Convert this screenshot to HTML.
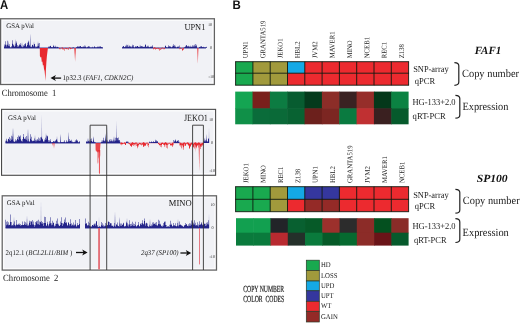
<!DOCTYPE html>
<html><head><meta charset="utf-8"><title>Figure</title>
<style>
html,body{margin:0;padding:0;background:#fff;}
body{width:520px;height:323px;position:relative;overflow:hidden;font-family:"Liberation Serif",serif;}
svg text{white-space:pre;text-rendering:geometricPrecision;}
</style></head><body>
<svg width="520" height="323" viewBox="0 0 520 323" style="position:absolute;left:0;top:0;filter:blur(0.45px)">
<rect width="520" height="323" fill="#ffffff"/>
<text x="0.1" y="8.8" font-family="Liberation Sans" font-size="12.6" font-weight="bold" font-style="normal" text-anchor="start" fill="#111" textLength="8.2" lengthAdjust="spacingAndGlyphs" >A</text>
<text x="232.4" y="8.6" font-family="Liberation Sans" font-size="12.4" font-weight="bold" font-style="normal" text-anchor="start" fill="#111" textLength="8.3" lengthAdjust="spacingAndGlyphs" >B</text>
<rect x="0.6" y="18.75" width="213.8" height="65.75" fill="#f1f2f6"/>
<rect x="2.1" y="20.25" width="210.8" height="62.75" fill="none" stroke="#ffffff" stroke-width="1.4" opacity="0.7"/>
<rect x="0.6" y="18.75" width="213.8" height="65.75" fill="none" stroke="#626262" stroke-width="1.25"/>
<rect x="1.55" y="109.35" width="214.04999999999998" height="65.95000000000002" fill="#f1f2f6"/>
<rect x="3.05" y="110.85" width="211.04999999999998" height="62.95000000000002" fill="none" stroke="#ffffff" stroke-width="1.4" opacity="0.7"/>
<rect x="1.55" y="109.35" width="214.04999999999998" height="65.95000000000002" fill="none" stroke="#4a4a4a" stroke-width="1.1"/>
<rect x="2.2" y="195.8" width="214.3" height="74.30000000000001" fill="#f1f2f6"/>
<rect x="3.7" y="197.3" width="211.3" height="71.30000000000001" fill="none" stroke="#ffffff" stroke-width="1.4" opacity="0.7"/>
<rect x="2.2" y="195.8" width="214.3" height="74.30000000000001" fill="none" stroke="#626262" stroke-width="1.25"/>
<line x1="4" y1="48.0" x2="103" y2="48.0" stroke="#24248a" stroke-width="0.9"/>
<line x1="122" y1="48.0" x2="206" y2="48.0" stroke="#24248a" stroke-width="0.9"/>
<path d="M4.00 48.0v-1.57h0.5v1.57zM4.50 48.0v-3.48h0.5v3.48zM5.00 48.0v-6.77h0.5v6.77zM5.50 48.0v-3.24h0.5v3.24zM6.00 48.0v-1.46h0.5v1.46zM6.50 48.0v-3.21h0.5v3.21zM7.00 48.0v-7.13h0.5v7.13zM7.50 48.0v-3.21h0.5v3.21zM8.00 48.0v-2.02h0.5v2.02zM8.50 48.0v-1.69h0.5v1.69zM9.00 48.0v-3.76h0.5v3.76zM9.50 48.0v-1.69h0.5v1.69zM10.00 48.0v-0.50h0.5v0.50zM10.50 48.0v-0.50h0.5v0.50zM11.00 48.0v-0.57h0.5v0.57zM11.50 48.0v-1.92h0.5v1.92zM12.00 48.0v-4.26h0.5v4.26zM12.50 48.0v-7.87h0.5v7.87zM13.00 48.0v-3.54h0.5v3.54zM13.50 48.0v-2.47h0.5v2.47zM14.00 48.0v-1.11h0.5v1.11zM14.50 48.0v-1.68h0.5v1.68zM15.00 48.0v-3.74h0.5v3.74zM15.50 48.0v-2.10h0.5v2.10zM16.00 48.0v-4.68h0.5v4.68zM16.50 48.0v-6.44h0.5v6.44zM17.00 48.0v-2.97h0.5v2.97zM17.50 48.0v-1.34h0.5v1.34zM18.00 48.0v-2.22h0.5v2.22zM18.50 48.0v-1.23h0.5v1.23zM19.00 48.0v-2.73h0.5v2.73zM19.50 48.0v-3.79h0.5v3.79zM20.00 48.0v-4.79h0.5v4.79zM20.50 48.0v-2.89h0.5v2.89zM21.00 48.0v-1.96h0.5v1.96zM21.50 48.0v-0.88h0.5v0.88zM22.00 48.0v-0.50h0.5v0.50zM22.50 48.0v-0.73h0.5v0.73zM23.00 48.0v-1.62h0.5v1.62zM23.50 48.0v-2.68h0.5v2.68zM24.00 48.0v-3.93h0.5v3.93zM24.50 48.0v-2.35h0.5v2.35zM25.00 48.0v-4.95h0.5v4.95zM25.50 48.0v-3.70h0.5v3.70zM26.00 48.0v-1.73h0.5v1.73zM26.50 48.0v-1.34h0.5v1.34zM27.00 48.0v-2.97h0.5v2.97zM27.50 48.0v-5.31h0.5v5.31zM28.00 48.0v-5.75h0.5v5.75zM28.50 48.0v-7.35h0.5v7.35zM29.00 48.0v-3.31h0.5v3.31zM29.50 48.0v-2.26h0.5v2.26zM30.00 48.0v-1.02h0.5v1.02zM30.50 48.0v-1.52h0.5v1.52zM31.00 48.0v-0.68h0.5v0.68zM31.50 48.0v-1.51h0.5v1.51zM32.00 48.0v-3.35h0.5v3.35zM32.50 48.0v-3.03h0.5v3.03zM33.00 48.0v-1.36h0.5v1.36zM33.50 48.0v-1.68h0.5v1.68zM34.00 48.0v-3.74h0.5v3.74zM34.50 48.0v-4.06h0.5v4.06zM35.00 48.0v-1.83h0.5v1.83zM35.50 48.0v-0.50h0.5v0.50zM36.00 48.0v-0.69h0.5v0.69zM36.50 48.0v-1.51h0.5v1.51zM37.00 48.0v-1.76h0.5v1.76zM37.50 48.0v-1.18h0.5v1.18zM38.00 48.0v-2.01h0.5v2.01zM38.50 48.0v-4.46h0.5v4.46zM39.00 48.0v-4.98h0.5v4.98zM48.00 48.0v-0.62h0.5v0.62zM48.50 48.0v-1.38h0.5v1.38zM49.00 48.0v-0.77h0.5v0.77zM49.50 48.0v-1.71h0.5v1.71zM50.00 48.0v-2.10h0.5v2.10zM50.50 48.0v-2.18h0.5v2.18zM51.00 48.0v-0.98h0.5v0.98zM51.50 48.0v-0.78h0.5v0.78zM52.00 48.0v-0.50h0.5v0.50zM52.50 48.0v-1.02h0.5v1.02zM53.00 48.0v-1.67h0.5v1.67zM53.50 48.0v-1.79h0.5v1.79zM54.00 48.0v-0.96h0.5v0.96zM54.50 48.0v-1.07h0.5v1.07zM55.00 48.0v-0.99h0.5v0.99zM55.50 48.0v-2.21h0.5v2.21zM56.00 48.0v-1.34h0.5v1.34zM56.50 48.0v-0.60h0.5v0.60zM57.00 48.0v-1.09h0.5v1.09zM57.50 48.0v-1.20h0.5v1.20zM58.00 48.0v-0.54h0.5v0.54zM58.50 48.0v-0.50h0.5v0.50zM72.50 48.0v-0.50h0.5v0.50zM73.00 48.0v-0.50h0.5v0.50zM73.50 48.0v-0.50h0.5v0.50zM76.00 48.0v-0.95h0.5v0.95zM76.50 48.0v-0.54h0.5v0.54zM77.00 48.0v-1.21h0.5v1.21zM77.50 48.0v-1.81h0.5v1.81zM78.00 48.0v-1.01h0.5v1.01zM78.50 48.0v-1.71h0.5v1.71zM79.00 48.0v-0.95h0.5v0.95zM79.50 48.0v-2.12h0.5v2.12zM80.00 48.0v-1.83h0.5v1.83zM80.50 48.0v-1.90h0.5v1.90zM81.00 48.0v-0.88h0.5v0.88zM81.50 48.0v-0.88h0.5v0.88zM82.00 48.0v-1.25h0.5v1.25zM82.50 48.0v-0.83h0.5v0.83zM83.00 48.0v-1.84h0.5v1.84zM83.50 48.0v-1.11h0.5v1.11zM84.00 48.0v-2.46h0.5v2.46zM84.50 48.0v-1.11h0.5v1.11zM85.00 48.0v-2.31h0.5v2.31zM85.50 48.0v-1.08h0.5v1.08zM86.00 48.0v-0.50h0.5v0.50zM86.50 48.0v-0.54h0.5v0.54zM87.00 48.0v-1.21h0.5v1.21zM87.50 48.0v-0.72h0.5v0.72zM88.00 48.0v-1.59h0.5v1.59zM88.50 48.0v-1.67h0.5v1.67zM89.00 48.0v-1.80h0.5v1.80zM89.50 48.0v-0.81h0.5v0.81zM90.00 48.0v-0.50h0.5v0.50zM90.50 48.0v-0.50h0.5v0.50zM91.00 48.0v-0.50h0.5v0.50zM91.50 48.0v-0.50h0.5v0.50zM92.00 48.0v-0.53h0.5v0.53zM92.50 48.0v-1.18h0.5v1.18zM93.00 48.0v-0.53h0.5v0.53zM93.50 48.0v-0.60h0.5v0.60zM94.00 48.0v-1.33h0.5v1.33zM94.50 48.0v-1.64h0.5v1.64zM95.00 48.0v-0.74h0.5v0.74zM95.50 48.0v-0.61h0.5v0.61zM96.00 48.0v-0.50h0.5v0.50zM96.50 48.0v-0.72h0.5v0.72zM97.00 48.0v-1.61h0.5v1.61zM97.50 48.0v-0.72h0.5v0.72zM98.00 48.0v-0.66h0.5v0.66zM98.50 48.0v-1.47h0.5v1.47zM99.00 48.0v-0.81h0.5v0.81zM99.50 48.0v-1.81h0.5v1.81zM100.00 48.0v-1.60h0.5v1.60zM100.50 48.0v-1.50h0.5v1.50zM101.00 48.0v-0.68h0.5v0.68zM101.50 48.0v-0.96h0.5v0.96zM102.00 48.0v-0.50h0.5v0.50zM102.50 48.0v-0.50h0.5v0.50zM122.00 48.0v-0.54h0.5v0.54zM122.50 48.0v-1.21h0.5v1.21zM123.00 48.0v-2.02h0.5v2.02zM123.50 48.0v-1.69h0.5v1.69zM124.00 48.0v-0.76h0.5v0.76zM124.50 48.0v-1.03h0.5v1.03zM125.00 48.0v-2.29h0.5v2.29zM125.50 48.0v-1.23h0.5v1.23zM126.00 48.0v-1.49h0.5v1.49zM126.50 48.0v-3.30h0.5v3.30zM127.00 48.0v-3.01h0.5v3.01zM127.50 48.0v-1.36h0.5v1.36zM128.00 48.0v-1.22h0.5v1.22zM128.50 48.0v-1.00h0.5v1.00zM129.00 48.0v-1.57h0.5v1.57zM129.50 48.0v-2.49h0.5v2.49zM130.00 48.0v-1.71h0.5v1.71zM130.50 48.0v-1.21h0.5v1.21zM131.00 48.0v-0.55h0.5v0.55zM131.50 48.0v-1.50h0.5v1.50zM132.00 48.0v-3.33h0.5v3.33zM132.50 48.0v-1.50h0.5v1.50zM133.00 48.0v-2.93h0.5v2.93zM133.50 48.0v-1.32h0.5v1.32zM134.00 48.0v-0.51h0.5v0.51zM134.50 48.0v-0.50h0.5v0.50zM135.00 48.0v-0.93h0.5v0.93zM135.50 48.0v-2.00h0.5v2.00zM136.00 48.0v-1.76h0.5v1.76zM136.50 48.0v-0.88h0.5v0.88zM137.00 48.0v-1.95h0.5v1.95zM137.50 48.0v-2.01h0.5v2.01zM138.00 48.0v-0.90h0.5v0.90zM138.50 48.0v-1.19h0.5v1.19zM139.00 48.0v-0.95h0.5v0.95zM139.50 48.0v-0.50h0.5v0.50zM140.00 48.0v-1.01h0.5v1.01zM140.50 48.0v-2.25h0.5v2.25zM141.00 48.0v-1.50h0.5v1.50zM141.50 48.0v-1.90h0.5v1.90zM142.00 48.0v-0.88h0.5v0.88zM142.50 48.0v-1.96h0.5v1.96zM143.00 48.0v-0.88h0.5v0.88zM143.50 48.0v-1.29h0.5v1.29zM144.00 48.0v-0.95h0.5v0.95zM144.50 48.0v-1.44h0.5v1.44zM145.00 48.0v-3.20h0.5v3.20zM145.50 48.0v-3.55h0.5v3.55zM146.00 48.0v-1.60h0.5v1.60zM146.50 48.0v-1.06h0.5v1.06zM147.00 48.0v-2.35h0.5v2.35zM147.50 48.0v-1.14h0.5v1.14zM148.00 48.0v-2.32h0.5v2.32zM148.50 48.0v-1.04h0.5v1.04zM149.00 48.0v-0.85h0.5v0.85zM149.50 48.0v-0.70h0.5v0.70zM150.00 48.0v-1.55h0.5v1.55zM150.50 48.0v-0.92h0.5v0.92zM151.00 48.0v-1.49h0.5v1.49zM151.50 48.0v-1.33h0.5v1.33zM152.00 48.0v-1.26h0.5v1.26zM152.50 48.0v-2.79h0.5v2.79zM165.00 48.0v-2.25h0.5v2.25zM165.50 48.0v-2.14h0.5v2.14zM166.00 48.0v-1.08h0.5v1.08zM166.50 48.0v-0.50h0.5v0.50zM167.00 48.0v-0.50h0.5v0.50zM167.50 48.0v-0.56h0.5v0.56zM168.00 48.0v-1.24h0.5v1.24zM168.50 48.0v-2.75h0.5v2.75zM169.00 48.0v-1.51h0.5v1.51zM169.50 48.0v-1.69h0.5v1.69zM170.00 48.0v-1.15h0.5v1.15zM170.50 48.0v-1.52h0.5v1.52zM171.00 48.0v-0.69h0.5v0.69zM171.50 48.0v-0.50h0.5v0.50zM172.00 48.0v-1.08h0.5v1.08zM172.50 48.0v-2.25h0.5v2.25zM173.00 48.0v-3.71h0.5v3.71zM173.50 48.0v-2.05h0.5v2.05zM174.00 48.0v-1.22h0.5v1.22zM174.50 48.0v-2.71h0.5v2.71zM175.00 48.0v-1.40h0.5v1.40zM175.50 48.0v-0.63h0.5v0.63zM176.00 48.0v-0.50h0.5v0.50zM176.50 48.0v-0.50h0.5v0.50zM177.00 48.0v-1.08h0.5v1.08zM177.50 48.0v-1.61h0.5v1.61zM178.00 48.0v-0.78h0.5v0.78zM178.50 48.0v-1.73h0.5v1.73zM179.00 48.0v-2.61h0.5v2.61zM184.00 48.0v-0.50h0.5v0.50zM184.50 48.0v-0.66h0.5v0.66zM185.00 48.0v-1.47h0.5v1.47zM185.50 48.0v-1.14h0.5v1.14zM186.00 48.0v-2.53h0.5v2.53zM186.50 48.0v-2.92h0.5v2.92zM187.00 48.0v-1.41h0.5v1.41zM187.50 48.0v-1.68h0.5v1.68zM188.00 48.0v-2.33h0.5v2.33zM188.50 48.0v-1.57h0.5v1.57zM189.00 48.0v-0.76h0.5v0.76zM189.50 48.0v-1.68h0.5v1.68zM190.00 48.0v-1.00h0.5v1.00zM190.50 48.0v-2.21h0.5v2.21zM191.00 48.0v-1.34h0.5v1.34zM191.50 48.0v-1.23h0.5v1.23zM192.00 48.0v-2.74h0.5v2.74zM192.50 48.0v-1.23h0.5v1.23zM193.00 48.0v-1.26h0.5v1.26zM193.50 48.0v-2.54h0.5v2.54zM194.00 48.0v-3.14h0.5v3.14zM194.50 48.0v-1.41h0.5v1.41zM195.00 48.0v-1.77h0.5v1.77zM195.50 48.0v-3.93h0.5v3.93zM196.00 48.0v-1.77h0.5v1.77zM196.50 48.0v-3.18h0.5v3.18zM199.00 48.0v-0.69h0.5v0.69zM199.50 48.0v-1.02h0.5v1.02zM200.00 48.0v-0.75h0.5v0.75zM200.50 48.0v-1.67h0.5v1.67zM201.00 48.0v-1.39h0.5v1.39zM201.50 48.0v-1.64h0.5v1.64zM202.00 48.0v-0.74h0.5v0.74zM202.50 48.0v-1.04h0.5v1.04zM203.00 48.0v-1.25h0.5v1.25zM203.50 48.0v-0.70h0.5v0.70zM204.00 48.0v-0.69h0.5v0.69zM204.50 48.0v-0.50h0.5v0.50zM205.00 48.0v-0.62h0.5v0.62zM205.50 48.0v-0.64h0.5v0.64zM206.00 48.0v-0.55h0.5v0.55zM206.50 48.0v-1.22h0.5v1.22z" fill="#24248a"/>
<path d="M59.00 47.66v1.61h0.5v-1.61zM59.50 48.02v0.44h0.5v-0.44zM60.00 48.20v0.94h0.5v-0.94zM60.50 48.07v0.26h0.5v-0.26zM61.00 47.72v0.84h0.5v-0.84zM61.50 47.40v0.46h0.5v-0.46zM62.00 47.36v1.25h0.5v-1.25zM62.50 47.67v1.88h0.5v-1.88zM63.00 48.17v0.94h0.5v-0.94zM63.50 48.57v1.27h0.5v-1.27zM64.00 48.65v2.16h0.5v-2.16zM64.50 48.40v0.67h0.5v-0.67zM65.00 48.03v0.92h0.5v-0.92zM65.50 47.81v0.43h0.5v-0.43zM66.00 47.89v1.19h0.5v-1.19zM66.50 48.22v0.92h0.5v-0.92zM67.00 48.54v0.82h0.5v-0.82zM67.50 48.60v0.44h0.5v-0.44zM68.00 48.31v1.60h0.5v-1.60zM68.50 47.82v0.71h0.5v-0.71zM69.00 47.40v0.64h0.5v-0.64zM69.50 47.30v1.01h0.5v-1.01zM70.00 47.54v1.12h0.5v-1.12zM70.50 47.93v1.40h0.5v-1.40zM71.00 48.19v0.44h0.5v-0.44zM71.50 48.15v0.65h0.5v-0.65zM72.00 47.85v0.80h0.5v-0.80zM153.00 48.11v1.28h0.5v-1.28zM153.50 47.65v0.78h0.5v-0.78zM154.00 47.28v1.06h0.5v-1.06zM154.50 47.23v1.55h0.5v-1.55zM155.00 47.52v1.03h0.5v-1.03zM155.50 47.98v1.70h0.5v-1.70zM156.00 48.30v0.67h0.5v-0.67zM156.50 48.31v0.59h0.5v-0.59zM157.00 48.05v0.68h0.5v-0.68zM157.50 47.75v0.52h0.5v-0.52zM158.00 47.66v0.95h0.5v-0.95zM158.50 47.89v1.32h0.5v-1.32zM159.00 48.34v0.85h0.5v-0.85zM159.50 48.71v2.04h0.5v-2.04zM160.00 48.78v0.65h0.5v-0.65zM160.50 48.49v1.34h0.5v-1.34zM161.00 48.03v1.18h0.5v-1.18zM161.50 47.67v0.50h0.5v-0.50zM162.00 47.62v0.84h0.5v-0.84zM162.50 47.86v0.42h0.5v-0.42zM163.00 48.18v0.40h0.5v-0.40zM163.50 48.30v0.85h0.5v-0.85zM164.00 48.11v1.19h0.5v-1.19zM164.50 47.69v0.81h0.5v-0.81zM179.50 48.03v1.25h0.5v-1.25zM180.00 47.80v0.59h0.5v-0.59zM180.50 47.87v0.79h0.5v-0.79zM181.00 48.21v0.28h0.5v-0.28zM181.50 48.57v0.44h0.5v-0.44zM182.00 48.71v1.69h0.5v-1.69zM182.50 48.48v1.98h0.5v-1.98zM183.00 48.01v2.08h0.5v-2.08zM183.50 47.56v1.02h0.5v-1.02z" fill="#e8282e"/>
<polygon points="29.70,48.0 30.20,33.50 30.70,48.0" fill="#24248a" opacity="0.8"/>
<polygon points="14.70,48.0 15.20,39.00 15.70,48.0" fill="#24248a" opacity="0.9"/>
<polygon points="7.80,48.0 8.30,40.80 8.80,48.0" fill="#24248a" opacity="0.9"/>
<polygon points="37.50,48.0 38.00,40.80 38.50,48.0" fill="#24248a" opacity="0.9"/>
<polygon points="21.50,48.0 22.00,42.00 22.50,48.0" fill="#24248a" opacity="0.9"/>
<polygon points="33.50,48.0 34.00,41.50 34.50,48.0" fill="#24248a" opacity="0.9"/>
<polygon points="53.05,48.0 53.80,44.50 54.55,48.0" fill="#24248a" opacity="1"/>
<polygon points="74.20,48.0 75.10,61.50 76.00,48.0" fill="#e8282e" opacity="0.8"/>
<polygon points="197.10,48.0 197.80,63.50 198.50,48.0" fill="#e8282e" opacity="0.75"/>
<polygon points="127.50,48.0 128.00,44.00 128.50,48.0" fill="#24248a" opacity="0.9"/>
<polygon points="139.50,48.0 140.00,44.50 140.50,48.0" fill="#24248a" opacity="0.9"/>
<polygon points="174.50,48.0 175.00,44.50 175.50,48.0" fill="#24248a" opacity="0.9"/>
<polygon points="185.50,48.0 186.00,45.00 186.50,48.0" fill="#24248a" opacity="0.9"/>
<polygon points="39.8,48.0 39.9,56.0 40.6,57.5 41.2,57.0 41.8,62.0 42.4,61.5 42.9,65.5 43.5,65.0 44.0,69.0 44.6,71.0 45.0,75.0 45.5,81.0 45.9,70.0 46.4,62.0 46.9,56.0 47.4,52.0 47.9,48.0" fill="#e8282e"/>
<line x1="5.5" y1="143.0" x2="80" y2="143.0" stroke="#24248a" stroke-width="0.9"/>
<line x1="86" y1="143.0" x2="120" y2="143.0" stroke="#24248a" stroke-width="0.9"/>
<line x1="120" y1="143.0" x2="203" y2="143.0" stroke="#b03060" stroke-width="0.6" opacity="0.7"/>
<path d="M5.50 143.0v-2.28h0.5v2.28zM6.00 143.0v-4.28h0.5v4.28zM6.50 143.0v-2.24h0.5v2.24zM7.00 143.0v-1.06h0.5v1.06zM7.50 143.0v-2.35h0.5v2.35zM8.00 143.0v-4.15h0.5v4.15zM8.50 143.0v-3.91h0.5v3.91zM9.00 143.0v-5.88h0.5v5.88zM9.50 143.0v-2.65h0.5v2.65zM10.00 143.0v-2.05h0.5v2.05zM10.50 143.0v-4.56h0.5v4.56zM11.00 143.0v-7.24h0.5v7.24zM11.50 143.0v-3.26h0.5v3.26zM12.00 143.0v-6.42h0.5v6.42zM12.50 143.0v-3.61h0.5v3.61zM13.00 143.0v-1.77h0.5v1.77zM13.50 143.0v-1.55h0.5v1.55zM14.00 143.0v-1.30h0.5v1.30zM14.50 143.0v-1.34h0.5v1.34zM15.00 143.0v-1.71h0.5v1.71zM15.50 143.0v-3.77h0.5v3.77zM16.00 143.0v-1.70h0.5v1.70zM16.50 143.0v-3.09h0.5v3.09zM17.00 143.0v-5.92h0.5v5.92zM17.50 143.0v-3.88h0.5v3.88zM18.00 143.0v-7.43h0.5v7.43zM18.50 143.0v-3.34h0.5v3.34zM19.00 143.0v-5.90h0.5v5.90zM19.50 143.0v-6.70h0.5v6.70zM20.00 143.0v-7.61h0.5v7.61zM20.50 143.0v-3.63h0.5v3.63zM21.00 143.0v-1.63h0.5v1.63zM21.50 143.0v-2.44h0.5v2.44zM22.00 143.0v-1.45h0.5v1.45zM22.50 143.0v-4.00h0.5v4.00zM23.00 143.0v-8.90h0.5v8.90zM23.50 143.0v-6.00h0.5v6.00zM24.00 143.0v-4.17h0.5v4.17zM24.50 143.0v-4.13h0.5v4.13zM25.00 143.0v-3.73h0.5v3.73zM25.50 143.0v-5.70h0.5v5.70zM26.00 143.0v-7.12h0.5v7.12zM26.50 143.0v-3.20h0.5v3.20zM27.00 143.0v-1.45h0.5v1.45zM27.50 143.0v-2.36h0.5v2.36zM28.00 143.0v-3.69h0.5v3.69zM28.50 143.0v-1.66h0.5v1.66zM29.00 143.0v-0.91h0.5v0.91zM29.50 143.0v-2.02h0.5v2.02zM30.00 143.0v-4.28h0.5v4.28zM30.50 143.0v-8.77h0.5v8.77zM31.00 143.0v-6.25h0.5v6.25zM31.50 143.0v-2.81h0.5v2.81zM32.00 143.0v-2.25h0.5v2.25zM32.50 143.0v-1.87h0.5v1.87zM33.00 143.0v-1.88h0.5v1.88zM33.50 143.0v-2.45h0.5v2.45zM34.00 143.0v-2.07h0.5v2.07zM34.50 143.0v-4.60h0.5v4.60zM35.00 143.0v-2.96h0.5v2.96zM35.50 143.0v-1.45h0.5v1.45zM36.00 143.0v-3.23h0.5v3.23zM36.50 143.0v-1.81h0.5v1.81zM37.00 143.0v-4.03h0.5v4.03zM37.50 143.0v-2.44h0.5v2.44zM38.00 143.0v-5.42h0.5v5.42zM38.50 143.0v-2.44h0.5v2.44zM39.00 143.0v-4.53h0.5v4.53zM39.50 143.0v-2.04h0.5v2.04zM40.00 143.0v-2.57h0.5v2.57zM40.50 143.0v-5.72h0.5v5.72zM41.00 143.0v-5.34h0.5v5.34zM41.50 143.0v-6.26h0.5v6.26zM42.00 143.0v-3.50h0.5v3.50zM42.50 143.0v-4.31h0.5v4.31zM43.00 143.0v-1.98h0.5v1.98zM43.50 143.0v-1.11h0.5v1.11zM44.00 143.0v-1.60h0.5v1.60zM44.50 143.0v-3.54h0.5v3.54zM45.00 143.0v-5.33h0.5v5.33zM45.50 143.0v-3.04h0.5v3.04zM46.00 143.0v-3.40h0.5v3.40zM46.50 143.0v-7.55h0.5v7.55zM47.00 143.0v-7.35h0.5v7.35zM47.50 143.0v-6.61h0.5v6.61zM48.00 143.0v-2.97h0.5v2.97zM48.50 143.0v-1.25h0.5v1.25zM49.00 143.0v-2.79h0.5v2.79zM49.50 143.0v-1.25h0.5v1.25zM50.00 143.0v-3.77h0.5v3.77zM50.50 143.0v-1.70h0.5v1.70zM51.00 143.0v-1.04h0.5v1.04zM51.50 143.0v-0.59h0.5v0.59zM52.00 143.0v-0.89h0.5v0.89zM52.50 143.0v-0.86h0.5v0.86zM53.00 143.0v-1.52h0.5v1.52zM53.50 143.0v-2.07h0.5v2.07zM54.00 143.0v-1.75h0.5v1.75zM54.50 143.0v-1.22h0.5v1.22zM55.00 143.0v-2.71h0.5v2.71zM55.50 143.0v-1.73h0.5v1.73zM56.00 143.0v-3.85h0.5v3.85zM56.50 143.0v-3.19h0.5v3.19zM57.00 143.0v-1.68h0.5v1.68zM57.50 143.0v-0.76h0.5v0.76zM58.00 143.0v-0.59h0.5v0.59zM58.50 143.0v-0.87h0.5v0.87zM59.00 143.0v-0.61h0.5v0.61zM59.50 143.0v-0.50h0.5v0.50zM60.00 143.0v-0.59h0.5v0.59zM60.50 143.0v-0.78h0.5v0.78zM61.00 143.0v-0.85h0.5v0.85zM61.50 143.0v-1.07h0.5v1.07zM62.00 143.0v-0.98h0.5v0.98zM62.50 143.0v-0.82h0.5v0.82zM63.00 143.0v-0.71h0.5v0.71zM63.50 143.0v-1.20h0.5v1.20zM64.00 143.0v-2.67h0.5v2.67zM64.50 143.0v-1.20h0.5v1.20zM65.00 143.0v-0.50h0.5v0.50zM65.50 143.0v-0.57h0.5v0.57zM66.00 143.0v-1.23h0.5v1.23zM66.50 143.0v-2.73h0.5v2.73zM67.00 143.0v-1.23h0.5v1.23zM67.50 143.0v-1.23h0.5v1.23zM68.00 143.0v-0.94h0.5v0.94zM68.50 143.0v-2.09h0.5v2.09zM69.00 143.0v-1.84h0.5v1.84zM69.50 143.0v-4.09h0.5v4.09zM70.00 143.0v-2.31h0.5v2.31zM70.50 143.0v-2.33h0.5v2.33zM71.00 143.0v-1.41h0.5v1.41zM71.50 143.0v-3.14h0.5v3.14zM72.00 143.0v-1.41h0.5v1.41zM72.50 143.0v-0.87h0.5v0.87zM73.00 143.0v-0.59h0.5v0.59zM73.50 143.0v-1.02h0.5v1.02zM74.00 143.0v-0.66h0.5v0.66zM74.50 143.0v-1.25h0.5v1.25zM75.00 143.0v-2.77h0.5v2.77zM75.50 143.0v-1.25h0.5v1.25zM76.00 143.0v-2.39h0.5v2.39zM76.50 143.0v-3.86h0.5v3.86zM77.00 143.0v-2.79h0.5v2.79zM77.50 143.0v-1.64h0.5v1.64zM78.00 143.0v-0.74h0.5v0.74zM78.50 143.0v-0.50h0.5v0.50zM79.00 143.0v-0.85h0.5v0.85zM79.50 143.0v-1.88h0.5v1.88zM86.00 143.0v-1.07h0.5v1.07zM86.50 143.0v-2.05h0.5v2.05zM87.00 143.0v-0.92h0.5v0.92zM87.50 143.0v-1.43h0.5v1.43zM88.00 143.0v-1.57h0.5v1.57zM88.50 143.0v-1.88h0.5v1.88zM89.00 143.0v-1.16h0.5v1.16zM89.50 143.0v-2.58h0.5v2.58zM90.00 143.0v-1.65h0.5v1.65zM90.50 143.0v-3.68h0.5v3.68zM91.00 143.0v-4.43h0.5v4.43zM91.50 143.0v-1.99h0.5v1.99zM92.00 143.0v-0.90h0.5v0.90zM92.50 143.0v-1.50h0.5v1.50zM93.00 143.0v-0.91h0.5v0.91zM93.50 143.0v-0.84h0.5v0.84zM94.00 143.0v-0.80h0.5v0.80zM94.50 143.0v-1.37h0.5v1.37zM95.00 143.0v-1.10h0.5v1.10zM100.80 143.0v-0.71h0.5v0.71zM101.30 143.0v-1.25h0.5v1.25zM101.80 143.0v-2.77h0.5v2.77zM102.30 143.0v-1.25h0.5v1.25zM102.80 143.0v-2.56h0.5v2.56zM103.30 143.0v-5.28h0.5v5.28zM103.80 143.0v-2.38h0.5v2.38zM104.30 143.0v-1.76h0.5v1.76zM104.80 143.0v-2.29h0.5v2.29zM105.30 143.0v-1.46h0.5v1.46zM105.80 143.0v-3.24h0.5v3.24zM106.30 143.0v-1.46h0.5v1.46zM106.80 143.0v-2.94h0.5v2.94zM107.30 143.0v-1.39h0.5v1.39zM107.80 143.0v-1.29h0.5v1.29zM108.30 143.0v-1.25h0.5v1.25zM108.80 143.0v-1.39h0.5v1.39zM109.30 143.0v-3.10h0.5v3.10zM109.80 143.0v-3.98h0.5v3.98zM110.30 143.0v-1.87h0.5v1.87zM110.80 143.0v-1.70h0.5v1.70zM111.30 143.0v-3.42h0.5v3.42zM111.80 143.0v-2.05h0.5v2.05zM112.30 143.0v-1.41h0.5v1.41zM112.80 143.0v-3.14h0.5v3.14zM113.30 143.0v-1.41h0.5v1.41zM113.80 143.0v-2.54h0.5v2.54zM114.30 143.0v-1.18h0.5v1.18zM114.80 143.0v-2.35h0.5v2.35zM115.30 143.0v-5.21h0.5v5.21zM115.80 143.0v-2.49h0.5v2.49zM116.30 143.0v-5.54h0.5v5.54zM116.80 143.0v-4.91h0.5v4.91zM117.30 143.0v-4.75h0.5v4.75zM117.80 143.0v-2.50h0.5v2.50zM118.30 143.0v-5.56h0.5v5.56zM118.80 143.0v-2.95h0.5v2.95zM119.30 143.0v-2.68h0.5v2.68zM119.80 143.0v-1.21h0.5v1.21zM126.00 143.0v-1.70h0.5v1.70zM126.50 143.0v-0.95h0.5v0.95zM127.00 143.0v-1.63h0.5v1.63zM127.50 143.0v-0.73h0.5v0.73zM128.00 143.0v-1.18h0.5v1.18zM149.00 143.0v-0.78h0.5v0.78zM149.50 143.0v-1.51h0.5v1.51zM150.00 143.0v-0.68h0.5v0.68zM150.50 143.0v-0.85h0.5v0.85zM151.00 143.0v-1.30h0.5v1.30zM151.50 143.0v-1.50h0.5v1.50zM152.00 143.0v-0.67h0.5v0.67zM152.50 143.0v-0.92h0.5v0.92zM153.00 143.0v-2.05h0.5v2.05zM153.50 143.0v-1.04h0.5v1.04zM154.00 143.0v-1.05h0.5v1.05zM154.50 143.0v-1.12h0.5v1.12zM155.00 143.0v-1.49h0.5v1.49zM155.50 143.0v-3.32h0.5v3.32zM156.00 143.0v-1.53h0.5v1.53zM156.50 143.0v-2.71h0.5v2.71zM157.00 143.0v-1.22h0.5v1.22zM157.50 143.0v-1.89h0.5v1.89zM173.50 143.0v-2.95h0.5v2.95zM174.00 143.0v-1.33h0.5v1.33zM174.50 143.0v-2.35h0.5v2.35zM175.00 143.0v-3.44h0.5v3.44zM175.50 143.0v-2.38h0.5v2.38zM176.00 143.0v-1.16h0.5v1.16zM176.50 143.0v-1.54h0.5v1.54zM177.00 143.0v-2.36h0.5v2.36zM177.50 143.0v-2.14h0.5v2.14zM178.00 143.0v-2.94h0.5v2.94zM178.50 143.0v-1.32h0.5v1.32zM179.00 143.0v-1.13h0.5v1.13zM203.50 143.0v-1.80h0.5v1.80zM204.00 143.0v-1.87h0.5v1.87zM204.50 143.0v-1.27h0.5v1.27zM205.00 143.0v-2.82h0.5v2.82zM205.50 143.0v-1.60h0.5v1.60zM206.00 143.0v-3.56h0.5v3.56zM206.50 143.0v-1.69h0.5v1.69zM207.00 143.0v-1.36h0.5v1.36zM207.50 143.0v-1.84h0.5v1.84zM208.00 143.0v-3.93h0.5v3.93zM208.50 143.0v-4.63h0.5v4.63z" fill="#24248a"/>
<path d="M120.00 143.18v1.33h0.5v-1.33zM120.50 142.69v1.06h0.5v-1.06zM121.00 142.40v2.87h0.5v-2.87zM121.50 142.46v1.61h0.5v-1.61zM122.00 142.78v1.43h0.5v-1.43zM122.50 143.11v1.22h0.5v-1.22zM123.00 143.19v0.85h0.5v-0.85zM123.50 142.97v0.62h0.5v-0.62zM124.00 142.59v1.12h0.5v-1.12zM124.50 142.35v1.46h0.5v-1.46zM125.00 142.43v2.69h0.5v-2.69zM125.50 142.83v2.06h0.5v-2.06zM128.50 142.80v1.19h0.5v-1.19zM129.00 142.99v1.60h0.5v-1.60zM129.50 143.34v0.56h0.5v-0.56zM130.00 143.60v2.25h0.5v-2.25zM130.50 143.54v2.31h0.5v-2.31zM131.00 143.15v3.74h0.5v-3.74zM131.50 142.66v3.61h0.5v-3.61zM132.00 142.33v2.46h0.5v-2.46zM132.50 142.35v3.02h0.5v-3.02zM133.00 142.67v1.53h0.5v-1.53zM133.50 143.04v2.92h0.5v-2.92zM134.00 143.21v1.64h0.5v-1.64zM134.50 143.07v1.14h0.5v-1.14zM135.00 142.73v0.83h0.5v-0.83zM135.50 142.46v1.97h0.5v-1.97zM136.00 142.50v0.94h0.5v-0.94zM136.50 142.86v3.23h0.5v-3.23zM137.00 143.35v3.11h0.5v-3.11zM137.50 143.70v4.46h0.5v-4.46zM138.00 143.70v2.86h0.5v-2.86zM138.50 143.38v1.62h0.5v-1.62zM139.00 142.98v1.30h0.5v-1.30zM139.50 142.77v1.36h0.5v-1.36zM140.00 142.88v1.12h0.5v-1.12zM140.50 143.19v1.89h0.5v-1.89zM141.00 143.47v1.11h0.5v-1.11zM141.50 143.47v1.98h0.5v-1.98zM142.00 143.13v1.28h0.5v-1.28zM142.50 142.64v2.17h0.5v-2.17zM143.00 142.29v4.41h0.5v-4.41zM143.50 142.27v4.37h0.5v-4.37zM144.00 142.58v3.01h0.5v-3.01zM144.50 143.00v3.15h0.5v-3.15zM145.00 143.25v2.84h0.5v-2.84zM145.50 143.19v1.94h0.5v-1.94zM146.00 142.89v1.40h0.5v-1.40zM146.50 142.60v0.74h0.5v-0.74zM147.00 142.58v0.68h0.5v-0.68zM147.50 142.88v2.89h0.5v-2.89zM148.00 143.36v3.86h0.5v-3.86zM148.50 143.72v1.34h0.5v-1.34zM158.00 142.66v1.44h0.5v-1.44zM158.50 142.89v1.27h0.5v-1.27zM159.00 143.34v2.01h0.5v-2.01zM159.50 143.71v1.44h0.5v-1.44zM160.00 143.78v1.33h0.5v-1.33zM160.50 143.49v3.23h0.5v-3.23zM161.00 143.03v4.17h0.5v-4.17zM161.50 142.67v2.21h0.5v-2.21zM162.00 142.62v1.42h0.5v-1.42zM162.50 142.86v1.20h0.5v-1.20zM163.00 143.18v1.19h0.5v-1.19zM163.50 143.30v1.75h0.5v-1.75zM164.00 143.11v3.64h0.5v-3.64zM164.50 142.69v2.23h0.5v-2.23zM165.00 142.31v2.29h0.5v-2.29zM165.50 142.23v1.96h0.5v-1.96zM166.00 142.50v2.52h0.5v-2.52zM166.50 142.97v4.79h0.5v-4.79zM167.00 143.36v1.35h0.5v-1.35zM167.50 143.44v5.18h0.5v-5.18zM168.00 143.22v1.26h0.5v-1.26zM168.50 142.89v0.53h0.5v-0.53zM169.00 142.74v0.93h0.5v-0.93zM169.50 142.89v0.50h0.5v-0.50zM170.00 143.29v1.70h0.5v-1.70zM170.50 143.66v1.97h0.5v-1.97zM171.00 143.76v1.72h0.5v-1.72zM171.50 143.50v1.64h0.5v-1.64zM172.00 143.02v4.03h0.5v-4.03zM172.50 142.61v2.96h0.5v-2.96zM173.00 142.49v2.72h0.5v-2.72zM179.50 143.03v2.49h0.5v-2.49zM180.00 142.80v3.67h0.5v-3.67zM180.50 142.87v2.19h0.5v-2.19zM181.00 143.21v1.64h0.5v-1.64zM181.50 143.57v4.60h0.5v-4.60zM182.00 143.71v1.80h0.5v-1.80zM182.50 143.48v1.69h0.5v-1.69zM183.00 143.01v6.76h0.5v-6.76zM183.50 142.56v4.58h0.5v-4.58zM184.00 142.38v1.38h0.5v-1.38zM184.50 142.55v3.11h0.5v-3.11zM185.00 142.91v2.77h0.5v-2.77zM185.50 143.17v2.46h0.5v-2.46zM186.00 143.15v0.63h0.5v-0.63zM186.50 142.84v1.48h0.5v-1.48zM187.00 142.48v1.36h0.5v-1.36zM187.50 142.33v2.17h0.5v-2.17zM188.00 142.54v3.41h0.5v-3.41zM188.50 143.00v2.00h0.5v-2.00zM189.00 143.47v4.83h0.5v-4.83zM189.50 143.67v4.97h0.5v-4.97zM190.00 143.51v2.67h0.5v-2.67zM190.50 143.15v3.52h0.5v-3.52zM191.00 142.85v1.65h0.5v-1.65zM191.50 142.83v2.01h0.5v-2.01zM192.00 143.10v1.00h0.5v-1.00zM192.50 143.45v1.59h0.5v-1.59zM193.00 143.62v3.09h0.5v-3.09zM193.50 143.44v4.01h0.5v-4.01zM194.00 142.99v1.57h0.5v-1.57zM194.50 142.51v5.91h0.5v-5.91zM195.00 142.29v2.61h0.5v-2.61zM195.50 142.43v3.97h0.5v-3.97zM196.00 142.80v5.45h0.5v-5.45zM196.50 143.13v3.54h0.5v-3.54zM197.00 143.20v2.65h0.5v-2.65zM197.50 142.96v2.23h0.5v-2.23zM198.00 142.62v2.17h0.5v-2.17zM198.50 142.44v5.12h0.5v-5.12zM199.00 142.59v1.87h0.5v-1.87zM199.50 143.02v2.34h0.5v-2.34zM200.00 143.50v5.60h0.5v-5.60zM200.50 143.74v2.65h0.5v-2.65zM201.00 143.62v3.31h0.5v-3.31zM201.50 143.24v2.29h0.5v-2.29zM202.00 142.88v2.91h0.5v-2.91zM202.50 142.77v2.09h0.5v-2.09zM203.00 142.97v1.54h0.5v-1.54z" fill="#e8282e"/>
<polygon points="41.40,143.0 41.80,114.50 42.20,143.0" fill="#24248a" opacity="0.45"/>
<polygon points="12.40,143.0 13.00,127.50 13.60,143.0" fill="#24248a" opacity="0.95"/>
<polygon points="27.40,143.0 28.00,128.50 28.60,143.0" fill="#24248a" opacity="0.95"/>
<polygon points="45.50,143.0 46.00,133.00 46.50,143.0" fill="#24248a" opacity="0.9"/>
<polygon points="60.00,143.0 60.50,134.00 61.00,143.0" fill="#24248a" opacity="0.9"/>
<polygon points="68.00,143.0 68.50,131.50 69.00,143.0" fill="#24248a" opacity="0.9"/>
<polygon points="56.50,143.0 57.00,136.00 57.50,143.0" fill="#24248a" opacity="0.9"/>
<polygon points="19.50,143.0 20.00,135.00 20.50,143.0" fill="#24248a" opacity="0.9"/>
<polygon points="34.50,143.0 35.00,135.00 35.50,143.0" fill="#24248a" opacity="0.9"/>
<polygon points="53.45,143.0 54.00,148.50 54.55,143.0" fill="#e8282e" opacity="0.9"/>
<polygon points="52.15,143.0 52.60,146.00 53.05,143.0" fill="#e8282e" opacity="0.8"/>
<polygon points="92.90,143.0 93.50,136.00 94.10,143.0" fill="#24248a" opacity="1"/>
<polygon points="87.40,143.0 88.00,138.00 88.60,143.0" fill="#24248a" opacity="1"/>
<polygon points="105.00,143.0 105.60,133.20 106.20,143.0" fill="#24248a" opacity="1"/>
<polygon points="107.10,143.0 107.50,126.00 107.90,143.0" fill="#24248a" opacity="0.4"/>
<polygon points="113.40,143.0 114.00,136.00 114.60,143.0" fill="#24248a" opacity="1"/>
<polygon points="116.25,143.0 116.70,121.00 117.15,143.0" fill="#24248a" opacity="0.6"/>
<polygon points="181.50,143.0 182.00,150.00 182.50,143.0" fill="#e8282e" opacity="0.9"/>
<polygon points="134.55,143.0 135.00,147.00 135.45,143.0" fill="#e8282e" opacity="0.9"/>
<polygon points="164.55,143.0 165.00,147.50 165.45,143.0" fill="#e8282e" opacity="0.9"/>
<polygon points="194.95,143.0 195.40,152.50 195.85,143.0" fill="#e8282e" opacity="0.7"/>
<polygon points="198.65,143.0 199.20,172.00 199.75,143.0" fill="#e8282e" opacity="0.9"/>
<polygon points="203.90,143.0 204.40,137.50 204.90,143.0" fill="#24248a" opacity="1"/>
<polygon points="205.70,143.0 206.20,134.00 206.70,143.0" fill="#24248a" opacity="0.9"/>
<polygon points="208.60,143.0 209.00,127.50 209.40,143.0" fill="#24248a" opacity="0.4"/>
<polygon points="95.5,143.0 95.6,149.5 96.1,152.0 96.6,150.5 97.1,152.5 97.6,151.5 98.0,153.0 98.4,151.0 98.8,152.0 99.2,153.0 99.7,152.0 100.1,149.0 100.5,143.0" fill="#e8282e" opacity="0.85"/>
<polygon points="97.5,150.0 97.5,162.0 97.9,164.0 98.30000000000001,162.0 98.30000000000001,150.0" fill="#e8282e" opacity="0.75"/>
<polygon points="98.25,150.0 98.25,157.0 98.6,159.0 98.94999999999999,157.0 98.94999999999999,150.0" fill="#e8282e" opacity="0.7"/>
<polygon points="98.95,150.0 98.95,172.8 99.4,174.8 99.85000000000001,172.8 99.85000000000001,150.0" fill="#e8282e" opacity="0.9"/>
<polygon points="99.7,150.0 99.7,155.0 100.0,157.0 100.3,155.0 100.3,150.0" fill="#e8282e" opacity="0.6"/>
<line x1="5.5" y1="228.0" x2="80" y2="228.0" stroke="#24248a" stroke-width="0.9"/>
<line x1="85" y1="228.0" x2="209" y2="228.0" stroke="#24248a" stroke-width="0.9"/>
<path d="M5.50 228.0v-8.15h0.5v8.15zM6.00 228.0v-6.13h0.5v6.13zM6.50 228.0v-2.76h0.5v2.76zM7.00 228.0v-3.42h0.5v3.42zM7.50 228.0v-6.63h0.5v6.63zM8.00 228.0v-5.77h0.5v5.77zM8.50 228.0v-2.78h0.5v2.78zM9.00 228.0v-2.91h0.5v2.91zM9.50 228.0v-3.17h0.5v3.17zM10.00 228.0v-6.04h0.5v6.04zM10.50 228.0v-13.43h0.5v13.43zM11.00 228.0v-6.04h0.5v6.04zM11.50 228.0v-2.49h0.5v2.49zM12.00 228.0v-2.47h0.5v2.47zM12.50 228.0v-3.02h0.5v3.02zM13.00 228.0v-4.32h0.5v4.32zM13.50 228.0v-2.58h0.5v2.58zM14.00 228.0v-2.91h0.5v2.91zM14.50 228.0v-6.47h0.5v6.47zM15.00 228.0v-2.91h0.5v2.91zM15.50 228.0v-1.81h0.5v1.81zM16.00 228.0v-3.62h0.5v3.62zM16.50 228.0v-8.03h0.5v8.03zM17.00 228.0v-3.62h0.5v3.62zM17.50 228.0v-2.89h0.5v2.89zM18.00 228.0v-4.13h0.5v4.13zM18.50 228.0v-3.14h0.5v3.14zM19.00 228.0v-4.51h0.5v4.51zM19.50 228.0v-2.89h0.5v2.89zM20.00 228.0v-3.88h0.5v3.88zM20.50 228.0v-2.29h0.5v2.29zM21.00 228.0v-2.87h0.5v2.87zM21.50 228.0v-3.10h0.5v3.10zM22.00 228.0v-6.51h0.5v6.51zM22.50 228.0v-2.93h0.5v2.93zM23.00 228.0v-3.06h0.5v3.06zM23.50 228.0v-3.09h0.5v3.09zM24.00 228.0v-6.57h0.5v6.57zM24.50 228.0v-3.65h0.5v3.65zM25.00 228.0v-2.95h0.5v2.95zM25.50 228.0v-5.86h0.5v5.86zM26.00 228.0v-2.64h0.5v2.64zM26.50 228.0v-4.42h0.5v4.42zM27.00 228.0v-1.99h0.5v1.99zM27.50 228.0v-3.49h0.5v3.49zM28.00 228.0v-2.22h0.5v2.22zM28.50 228.0v-3.26h0.5v3.26zM29.00 228.0v-7.24h0.5v7.24zM29.50 228.0v-5.23h0.5v5.23zM30.00 228.0v-3.00h0.5v3.00zM30.50 228.0v-6.67h0.5v6.67zM31.00 228.0v-6.00h0.5v6.00zM31.50 228.0v-7.03h0.5v7.03zM32.00 228.0v-3.58h0.5v3.58zM32.50 228.0v-7.96h0.5v7.96zM33.00 228.0v-3.58h0.5v3.58zM33.50 228.0v-6.55h0.5v6.55zM34.00 228.0v-2.95h0.5v2.95zM34.50 228.0v-1.31h0.5v1.31zM35.00 228.0v-2.66h0.5v2.66zM35.50 228.0v-5.91h0.5v5.91zM36.00 228.0v-7.08h0.5v7.08zM36.50 228.0v-5.58h0.5v5.58zM37.00 228.0v-7.24h0.5v7.24zM37.50 228.0v-3.70h0.5v3.70zM38.00 228.0v-8.22h0.5v8.22zM38.50 228.0v-3.70h0.5v3.70zM39.00 228.0v-2.96h0.5v2.96zM39.50 228.0v-6.57h0.5v6.57zM40.00 228.0v-6.34h0.5v6.34zM40.50 228.0v-5.71h0.5v5.71zM41.00 228.0v-6.99h0.5v6.99zM41.50 228.0v-4.49h0.5v4.49zM42.00 228.0v-6.10h0.5v6.10zM42.50 228.0v-4.26h0.5v4.26zM43.00 228.0v-1.92h0.5v1.92zM43.50 228.0v-5.03h0.5v5.03zM44.00 228.0v-11.19h0.5v11.19zM44.50 228.0v-5.03h0.5v5.03zM45.00 228.0v-10.89h0.5v10.89zM45.50 228.0v-4.90h0.5v4.90zM46.00 228.0v-1.99h0.5v1.99zM46.50 228.0v-2.77h0.5v2.77zM47.00 228.0v-6.15h0.5v6.15zM47.50 228.0v-4.13h0.5v4.13zM48.00 228.0v-1.86h0.5v1.86zM48.50 228.0v-3.32h0.5v3.32zM49.00 228.0v-4.21h0.5v4.21zM49.50 228.0v-6.76h0.5v6.76zM50.00 228.0v-4.79h0.5v4.79zM50.50 228.0v-10.63h0.5v10.63zM51.00 228.0v-4.79h0.5v4.79zM51.50 228.0v-2.71h0.5v2.71zM52.00 228.0v-3.26h0.5v3.26zM52.50 228.0v-7.23h0.5v7.23zM53.00 228.0v-4.91h0.5v4.91zM53.50 228.0v-5.43h0.5v5.43zM54.00 228.0v-2.44h0.5v2.44zM54.50 228.0v-1.39h0.5v1.39zM55.00 228.0v-2.33h0.5v2.33zM55.50 228.0v-4.13h0.5v4.13zM56.00 228.0v-7.18h0.5v7.18zM56.50 228.0v-3.88h0.5v3.88zM57.00 228.0v-4.30h0.5v4.30zM57.50 228.0v-9.55h0.5v9.55zM58.00 228.0v-4.30h0.5v4.30zM58.50 228.0v-2.65h0.5v2.65zM59.00 228.0v-2.12h0.5v2.12zM59.50 228.0v-2.14h0.5v2.14zM60.00 228.0v-2.88h0.5v2.88zM60.50 228.0v-6.39h0.5v6.39zM61.00 228.0v-4.89h0.5v4.89zM61.50 228.0v-10.86h0.5v10.86zM62.00 228.0v-4.89h0.5v4.89zM62.50 228.0v-2.09h0.5v2.09zM63.00 228.0v-4.63h0.5v4.63zM63.50 228.0v-3.87h0.5v3.87zM64.00 228.0v-8.59h0.5v8.59zM64.50 228.0v-5.92h0.5v5.92zM65.00 228.0v-5.07h0.5v5.07zM65.50 228.0v-10.48h0.5v10.48zM66.00 228.0v-4.71h0.5v4.71zM66.50 228.0v-5.97h0.5v5.97zM67.00 228.0v-2.69h0.5v2.69zM67.50 228.0v-2.40h0.5v2.40zM68.00 228.0v-5.32h0.5v5.32zM68.50 228.0v-5.63h0.5v5.63zM69.00 228.0v-2.53h0.5v2.53zM69.50 228.0v-3.90h0.5v3.90zM70.00 228.0v-8.67h0.5v8.67zM70.50 228.0v-3.90h0.5v3.90zM71.00 228.0v-2.29h0.5v2.29zM71.50 228.0v-4.66h0.5v4.66zM72.00 228.0v-3.52h0.5v3.52zM72.50 228.0v-2.81h0.5v2.81zM73.00 228.0v-2.45h0.5v2.45zM73.50 228.0v-5.45h0.5v5.45zM74.00 228.0v-2.45h0.5v2.45zM74.50 228.0v-3.62h0.5v3.62zM75.00 228.0v-8.04h0.5v8.04zM75.50 228.0v-3.62h0.5v3.62zM76.00 228.0v-1.28h0.5v1.28zM76.50 228.0v-2.26h0.5v2.26zM77.00 228.0v-5.02h0.5v5.02zM77.50 228.0v-2.76h0.5v2.76zM78.00 228.0v-2.74h0.5v2.74zM78.50 228.0v-2.90h0.5v2.90zM79.00 228.0v-4.04h0.5v4.04zM79.50 228.0v-8.98h0.5v8.98zM85.00 228.0v-4.33h0.5v4.33zM85.50 228.0v-9.62h0.5v9.62zM86.00 228.0v-4.33h0.5v4.33zM86.50 228.0v-4.94h0.5v4.94zM87.00 228.0v-2.48h0.5v2.48zM87.50 228.0v-2.79h0.5v2.79zM88.00 228.0v-6.20h0.5v6.20zM88.50 228.0v-2.79h0.5v2.79zM89.00 228.0v-5.09h0.5v5.09zM89.50 228.0v-2.29h0.5v2.29zM90.00 228.0v-2.02h0.5v2.02zM90.50 228.0v-1.18h0.5v1.18zM91.00 228.0v-1.38h0.5v1.38zM91.50 228.0v-1.39h0.5v1.39zM92.00 228.0v-3.08h0.5v3.08zM92.50 228.0v-3.01h0.5v3.01zM93.00 228.0v-2.03h0.5v2.03zM93.50 228.0v-3.50h0.5v3.50zM94.00 228.0v-3.53h0.5v3.53zM94.50 228.0v-4.52h0.5v4.52zM95.00 228.0v-2.29h0.5v2.29zM95.50 228.0v-4.56h0.5v4.56zM96.00 228.0v-6.70h0.5v6.70zM96.50 228.0v-6.75h0.5v6.75zM97.00 228.0v-3.04h0.5v3.04zM97.50 228.0v-1.62h0.5v1.62zM98.00 228.0v-1.21h0.5v1.21zM98.50 228.0v-1.03h0.5v1.03zM99.00 228.0v-1.14h0.5v1.14zM99.50 228.0v-2.09h0.5v2.09zM100.00 228.0v-1.56h0.5v1.56zM100.50 228.0v-0.97h0.5v0.97zM101.00 228.0v-2.67h0.5v2.67zM101.50 228.0v-5.94h0.5v5.94zM102.00 228.0v-4.81h0.5v4.81zM102.50 228.0v-2.16h0.5v2.16zM103.00 228.0v-1.49h0.5v1.49zM103.50 228.0v-3.32h0.5v3.32zM104.00 228.0v-1.49h0.5v1.49zM104.50 228.0v-2.25h0.5v2.25zM105.00 228.0v-4.99h0.5v4.99zM105.50 228.0v-2.36h0.5v2.36zM106.00 228.0v-1.87h0.5v1.87zM106.50 228.0v-4.16h0.5v4.16zM107.00 228.0v-3.06h0.5v3.06zM107.50 228.0v-2.79h0.5v2.79zM108.00 228.0v-6.20h0.5v6.20zM108.50 228.0v-6.54h0.5v6.54zM109.00 228.0v-2.94h0.5v2.94zM109.50 228.0v-6.06h0.5v6.06zM110.00 228.0v-4.70h0.5v4.70zM110.50 228.0v-4.77h0.5v4.77zM111.00 228.0v-2.17h0.5v2.17zM111.50 228.0v-4.82h0.5v4.82zM112.00 228.0v-2.17h0.5v2.17zM112.50 228.0v-2.23h0.5v2.23zM113.00 228.0v-1.03h0.5v1.03zM113.50 228.0v-2.27h0.5v2.27zM114.00 228.0v-5.05h0.5v5.05zM114.50 228.0v-2.27h0.5v2.27zM115.00 228.0v-1.35h0.5v1.35zM115.50 228.0v-1.83h0.5v1.83zM116.00 228.0v-3.06h0.5v3.06zM116.50 228.0v-4.00h0.5v4.00zM117.00 228.0v-5.54h0.5v5.54zM117.50 228.0v-2.49h0.5v2.49zM118.00 228.0v-1.68h0.5v1.68zM118.50 228.0v-2.05h0.5v2.05zM119.00 228.0v-1.09h0.5v1.09zM119.50 228.0v-1.04h0.5v1.04zM120.00 228.0v-2.17h0.5v2.17zM120.50 228.0v-4.44h0.5v4.44zM121.00 228.0v-2.04h0.5v2.04zM121.50 228.0v-4.53h0.5v4.53zM122.00 228.0v-3.52h0.5v3.52zM122.50 228.0v-2.90h0.5v2.90zM123.00 228.0v-5.14h0.5v5.14zM123.50 228.0v-4.47h0.5v4.47zM124.00 228.0v-2.01h0.5v2.01zM124.50 228.0v-1.18h0.5v1.18zM125.00 228.0v-1.79h0.5v1.79zM125.50 228.0v-2.19h0.5v2.19zM126.00 228.0v-4.86h0.5v4.86zM126.50 228.0v-6.13h0.5v6.13zM127.00 228.0v-4.77h0.5v4.77zM127.50 228.0v-2.15h0.5v2.15zM128.00 228.0v-1.42h0.5v1.42zM128.50 228.0v-3.54h0.5v3.54zM129.00 228.0v-7.86h0.5v7.86zM129.50 228.0v-3.54h0.5v3.54zM130.00 228.0v-4.01h0.5v4.01zM130.50 228.0v-1.81h0.5v1.81zM131.00 228.0v-1.98h0.5v1.98zM131.50 228.0v-4.35h0.5v4.35zM132.00 228.0v-6.36h0.5v6.36zM132.50 228.0v-2.86h0.5v2.86zM133.00 228.0v-2.08h0.5v2.08zM133.50 228.0v-4.61h0.5v4.61zM134.00 228.0v-2.08h0.5v2.08zM134.50 228.0v-4.09h0.5v4.09zM135.00 228.0v-6.28h0.5v6.28zM135.50 228.0v-2.82h0.5v2.82zM136.00 228.0v-1.65h0.5v1.65zM136.50 228.0v-1.56h0.5v1.56zM137.00 228.0v-2.57h0.5v2.57zM137.50 228.0v-2.86h0.5v2.86zM138.00 228.0v-6.03h0.5v6.03zM138.50 228.0v-3.36h0.5v3.36zM139.00 228.0v-1.68h0.5v1.68zM139.50 228.0v-1.63h0.5v1.63zM140.00 228.0v-3.63h0.5v3.63zM140.50 228.0v-4.49h0.5v4.49zM141.00 228.0v-4.64h0.5v4.64zM141.50 228.0v-2.92h0.5v2.92zM142.00 228.0v-4.74h0.5v4.74zM142.50 228.0v-7.87h0.5v7.87zM143.00 228.0v-3.54h0.5v3.54zM143.50 228.0v-4.31h0.5v4.31zM144.00 228.0v-9.57h0.5v9.57zM144.50 228.0v-6.93h0.5v6.93zM145.00 228.0v-4.46h0.5v4.46zM145.50 228.0v-2.33h0.5v2.33zM146.00 228.0v-5.17h0.5v5.17zM146.50 228.0v-4.71h0.5v4.71zM147.00 228.0v-4.62h0.5v4.62zM147.50 228.0v-2.08h0.5v2.08zM148.00 228.0v-1.29h0.5v1.29zM148.50 228.0v-1.44h0.5v1.44zM149.00 228.0v-3.20h0.5v3.20zM149.50 228.0v-1.50h0.5v1.50zM150.00 228.0v-2.10h0.5v2.10zM150.50 228.0v-1.86h0.5v1.86zM151.00 228.0v-1.75h0.5v1.75zM151.50 228.0v-3.54h0.5v3.54zM152.00 228.0v-2.50h0.5v2.50zM152.50 228.0v-5.55h0.5v5.55zM153.00 228.0v-5.71h0.5v5.71zM153.50 228.0v-3.76h0.5v3.76zM154.00 228.0v-4.13h0.5v4.13zM154.50 228.0v-4.21h0.5v4.21zM155.00 228.0v-3.23h0.5v3.23zM155.50 228.0v-5.33h0.5v5.33zM156.00 228.0v-2.66h0.5v2.66zM156.50 228.0v-5.91h0.5v5.91zM157.00 228.0v-2.66h0.5v2.66zM157.50 228.0v-2.30h0.5v2.30zM158.00 228.0v-3.92h0.5v3.92zM158.50 228.0v-8.21h0.5v8.21zM159.00 228.0v-3.70h0.5v3.70zM159.50 228.0v-7.35h0.5v7.35zM160.00 228.0v-3.31h0.5v3.31zM160.50 228.0v-4.23h0.5v4.23zM161.00 228.0v-2.25h0.5v2.25zM161.50 228.0v-1.82h0.5v1.82zM162.00 228.0v-2.44h0.5v2.44zM162.50 228.0v-1.31h0.5v1.31zM163.00 228.0v-2.27h0.5v2.27zM163.50 228.0v-5.05h0.5v5.05zM164.00 228.0v-6.45h0.5v6.45zM164.50 228.0v-5.69h0.5v5.69zM165.00 228.0v-2.95h0.5v2.95zM165.50 228.0v-6.55h0.5v6.55zM166.00 228.0v-2.95h0.5v2.95zM166.50 228.0v-1.09h0.5v1.09zM167.00 228.0v-1.77h0.5v1.77zM167.50 228.0v-1.37h0.5v1.37zM168.00 228.0v-1.22h0.5v1.22zM168.50 228.0v-1.90h0.5v1.90zM169.00 228.0v-0.98h0.5v0.98zM169.50 228.0v-3.24h0.5v3.24zM170.00 228.0v-7.21h0.5v7.21zM170.50 228.0v-3.24h0.5v3.24zM171.00 228.0v-4.21h0.5v4.21zM171.50 228.0v-3.02h0.5v3.02zM172.00 228.0v-1.57h0.5v1.57zM172.50 228.0v-2.09h0.5v2.09zM173.00 228.0v-2.62h0.5v2.62zM173.50 228.0v-5.07h0.5v5.07zM174.00 228.0v-2.28h0.5v2.28zM174.50 228.0v-3.02h0.5v3.02zM175.00 228.0v-2.09h0.5v2.09zM175.50 228.0v-4.64h0.5v4.64zM176.00 228.0v-2.09h0.5v2.09zM176.50 228.0v-1.45h0.5v1.45zM177.00 228.0v-2.20h0.5v2.20zM177.50 228.0v-4.88h0.5v4.88zM178.00 228.0v-2.54h0.5v2.54zM178.50 228.0v-1.51h0.5v1.51zM179.00 228.0v-2.96h0.5v2.96zM179.50 228.0v-6.58h0.5v6.58zM180.00 228.0v-2.96h0.5v2.96zM180.50 228.0v-3.84h0.5v3.84zM181.00 228.0v-2.31h0.5v2.31zM181.50 228.0v-3.05h0.5v3.05zM182.00 228.0v-2.22h0.5v2.22zM182.50 228.0v-1.72h0.5v1.72zM183.00 228.0v-1.03h0.5v1.03zM183.50 228.0v-1.49h0.5v1.49zM184.00 228.0v-2.27h0.5v2.27zM184.50 228.0v-2.95h0.5v2.95zM185.00 228.0v-4.95h0.5v4.95zM185.50 228.0v-3.10h0.5v3.10zM186.00 228.0v-3.67h0.5v3.67zM186.50 228.0v-3.87h0.5v3.87zM187.00 228.0v-2.13h0.5v2.13zM187.50 228.0v-1.92h0.5v1.92zM188.00 228.0v-1.70h0.5v1.70zM188.50 228.0v-3.77h0.5v3.77zM189.00 228.0v-2.19h0.5v2.19zM189.50 228.0v-4.87h0.5v4.87zM190.00 228.0v-4.59h0.5v4.59zM190.50 228.0v-2.16h0.5v2.16zM191.00 228.0v-3.37h0.5v3.37zM191.50 228.0v-7.50h0.5v7.50zM192.00 228.0v-5.74h0.5v5.74zM192.50 228.0v-7.83h0.5v7.83zM193.00 228.0v-5.30h0.5v5.30zM193.50 228.0v-3.53h0.5v3.53zM194.00 228.0v-7.84h0.5v7.84zM194.50 228.0v-3.53h0.5v3.53zM195.00 228.0v-2.39h0.5v2.39zM195.50 228.0v-5.32h0.5v5.32zM196.00 228.0v-3.02h0.5v3.02zM196.50 228.0v-2.55h0.5v2.55zM197.00 228.0v-5.66h0.5v5.66zM197.50 228.0v-2.55h0.5v2.55zM198.00 228.0v-3.59h0.5v3.59zM198.50 228.0v-1.61h0.5v1.61zM199.00 228.0v-3.04h0.5v3.04zM199.50 228.0v-6.76h0.5v6.76zM200.00 228.0v-3.04h0.5v3.04zM200.50 228.0v-4.12h0.5v4.12zM201.00 228.0v-4.53h0.5v4.53zM201.50 228.0v-5.83h0.5v5.83zM202.00 228.0v-3.50h0.5v3.50zM202.50 228.0v-2.82h0.5v2.82zM203.00 228.0v-6.26h0.5v6.26zM203.50 228.0v-3.02h0.5v3.02zM204.00 228.0v-4.25h0.5v4.25zM204.50 228.0v-4.13h0.5v4.13zM205.00 228.0v-1.91h0.5v1.91zM205.50 228.0v-4.24h0.5v4.24zM206.00 228.0v-2.62h0.5v2.62zM206.50 228.0v-5.36h0.5v5.36zM207.00 228.0v-5.68h0.5v5.68zM207.50 228.0v-3.77h0.5v3.77zM208.00 228.0v-3.51h0.5v3.51zM208.50 228.0v-7.81h0.5v7.81z" fill="#24248a"/>
<polygon points="40.60,228.0 41.00,200.00 41.40,228.0" fill="#24248a" opacity="0.4"/>
<polygon points="114.40,228.0 115.00,211.70 115.60,228.0" fill="#24248a" opacity="0.6"/>
<polygon points="118.90,228.0 119.50,217.00 120.10,228.0" fill="#24248a" opacity="0.8"/>
<polygon points="126.50,228.0 127.00,218.00 127.50,228.0" fill="#24248a" opacity="0.8"/>
<polygon points="13.50,228.0 14.00,217.00 14.50,228.0" fill="#24248a" opacity="0.9"/>
<polygon points="26.50,228.0 27.00,216.00 27.50,228.0" fill="#24248a" opacity="0.9"/>
<polygon points="208.60,228.0 209.00,213.50 209.40,228.0" fill="#24248a" opacity="0.4"/>
<polygon points="98.60,228.0 99.00,217.00 99.40,228.0" fill="#24248a" opacity="0.4"/>
<polygon points="149.50,228.0 150.00,219.00 150.50,228.0" fill="#24248a" opacity="0.8"/>
<polygon points="177.50,228.0 178.00,219.00 178.50,228.0" fill="#24248a" opacity="0.8"/>
<rect x="98.3" y="228.0" width="1.5" height="41.39999999999998" fill="#e0505a"/>
<rect x="199.1" y="228.0" width="0.8" height="36.39999999999998" fill="#e25a66"/>
<path d="M90.1 270 V125.2 H106.7 V270" fill="none" stroke="#333" stroke-width="0.9"/>
<path d="M192.6 270 V125.2 H203.4 V270" fill="none" stroke="#333" stroke-width="0.9"/>
<text x="6.2" y="27.6" font-family="Liberation Serif" font-size="7.0" font-weight="normal" font-style="normal" text-anchor="start" fill="#1a1a1a" textLength="27.8" lengthAdjust="spacingAndGlyphs" >GSA pVal</text>
<text x="8.1" y="119.5" font-family="Liberation Serif" font-size="7.0" font-weight="normal" font-style="normal" text-anchor="start" fill="#1a1a1a" textLength="27.8" lengthAdjust="spacingAndGlyphs" >GSA pVal</text>
<text x="6.8" y="204.8" font-family="Liberation Serif" font-size="7.0" font-weight="normal" font-style="normal" text-anchor="start" fill="#1a1a1a" textLength="27.8" lengthAdjust="spacingAndGlyphs" >GSA pVal</text>
<text x="184.4" y="30.2" font-family="Liberation Serif" font-size="9" font-weight="normal" font-style="normal" text-anchor="start" fill="#1a1a1a" textLength="21" lengthAdjust="spacingAndGlyphs" >UPN1</text>
<text x="183.9" y="120.6" font-family="Liberation Serif" font-size="9.4" font-weight="normal" font-style="normal" text-anchor="start" fill="#1a1a1a" textLength="24" lengthAdjust="spacingAndGlyphs" >JEKO1</text>
<text x="168.8" y="205.9" font-family="Liberation Serif" font-size="9" font-weight="normal" font-style="normal" text-anchor="start" fill="#1a1a1a" textLength="22.8" lengthAdjust="spacingAndGlyphs" >MINO</text>
<text x="208" y="26.3" font-family="Liberation Serif" font-size="4.2" font-weight="normal" font-style="normal" text-anchor="start" fill="#333" >10</text>
<text x="210" y="48.8" font-family="Liberation Serif" font-size="4.2" font-weight="normal" font-style="normal" text-anchor="start" fill="#333" >0</text>
<text x="208.6" y="77.9" font-family="Liberation Serif" font-size="4.2" font-weight="normal" font-style="normal" text-anchor="start" fill="#333" >-10</text>
<text x="209" y="121.0" font-family="Liberation Serif" font-size="4.2" font-weight="normal" font-style="normal" text-anchor="start" fill="#333" >10</text>
<text x="211" y="144.0" font-family="Liberation Serif" font-size="4.2" font-weight="normal" font-style="normal" text-anchor="start" fill="#333" >0</text>
<text x="209.4" y="171.8" font-family="Liberation Serif" font-size="4.2" font-weight="normal" font-style="normal" text-anchor="start" fill="#333" >-10</text>
<text x="210.5" y="206.3" font-family="Liberation Serif" font-size="4.2" font-weight="normal" font-style="normal" text-anchor="start" fill="#333" >10</text>
<text x="211.5" y="229.0" font-family="Liberation Serif" font-size="4.2" font-weight="normal" font-style="normal" text-anchor="start" fill="#333" >0</text>
<text x="209.4" y="258.2" font-family="Liberation Serif" font-size="4.2" font-weight="normal" font-style="normal" text-anchor="start" fill="#333" >-10</text>
<line x1="52.5" y1="78.1" x2="61.1" y2="78.1" stroke="#111" stroke-width="1.3"/>
<polygon points="50.5,78.1 55.9,75.1 54.5,78.1 55.9,81.1" fill="#111"/>
<text x="62.6" y="79.5" font-family="Liberation Serif" font-size="7.4" fill="#1a1a1a" textLength="70.8" lengthAdjust="spacingAndGlyphs">1p32.3 (<tspan font-style="italic">FAF1, CDKN2C)</tspan></text>
<text x="5.6" y="255.0" font-family="Liberation Serif" font-size="7.4" fill="#1a1a1a" textLength="66.6" lengthAdjust="spacingAndGlyphs">2q12.1 (<tspan font-style="italic">BCL2L11/BIM </tspan>)</text>
<line x1="76" y1="252.5" x2="85.6" y2="252.5" stroke="#111" stroke-width="1.3"/>
<polygon points="87.6,252.5 82.19999999999999,249.5 83.6,252.5 82.19999999999999,255.5" fill="#111"/>
<text x="141" y="255.2" font-family="Liberation Serif" font-size="7.4" fill="#1a1a1a" textLength="37.6" lengthAdjust="spacingAndGlyphs" font-style="italic">2q37 (SP100)</text>
<line x1="180.4" y1="253.0" x2="189.2" y2="253.0" stroke="#111" stroke-width="1.3"/>
<polygon points="191.2,253.0 185.79999999999998,250.0 187.2,253.0 185.79999999999998,256.0" fill="#111"/>
<text x="1.7" y="96.1" font-family="Liberation Serif" font-size="9.5" font-weight="normal" font-style="normal" text-anchor="start" fill="#1a1a1a" textLength="54.6" lengthAdjust="spacingAndGlyphs" >Chromosome  1</text>
<text x="3.1" y="281.4" font-family="Liberation Serif" font-size="9.5" font-weight="normal" font-style="normal" text-anchor="start" fill="#1a1a1a" textLength="55.3" lengthAdjust="spacingAndGlyphs" >Chromosome  2</text>
<rect x="235.60" y="61.7" width="17.90" height="12.10" fill="#19a94f"/>
<rect x="252.90" y="61.7" width="17.90" height="12.10" fill="#a19a3c"/>
<rect x="270.20" y="61.7" width="17.90" height="12.10" fill="#a19a3c"/>
<rect x="287.50" y="61.7" width="17.90" height="12.10" fill="#14a9e6"/>
<rect x="304.80" y="61.7" width="17.90" height="12.10" fill="#ec2a2f"/>
<rect x="322.10" y="61.7" width="17.90" height="12.10" fill="#ec2a2f"/>
<rect x="339.40" y="61.7" width="17.90" height="12.10" fill="#ec2a2f"/>
<rect x="356.70" y="61.7" width="17.90" height="12.10" fill="#ec2a2f"/>
<rect x="374.00" y="61.7" width="17.90" height="12.10" fill="#ec2a2f"/>
<rect x="391.30" y="61.7" width="17.30" height="12.10" fill="#ec2a2f"/>
<rect x="235.60" y="73.2" width="17.90" height="12.00" fill="#19a94f"/>
<rect x="252.90" y="73.2" width="17.90" height="12.00" fill="#a19a3c"/>
<rect x="270.20" y="73.2" width="17.90" height="12.00" fill="#a19a3c"/>
<rect x="287.50" y="73.2" width="17.90" height="12.00" fill="#ec2a2f"/>
<rect x="304.80" y="73.2" width="17.90" height="12.00" fill="#ec2a2f"/>
<rect x="322.10" y="73.2" width="17.90" height="12.00" fill="#ec2a2f"/>
<rect x="339.40" y="73.2" width="17.90" height="12.00" fill="#ec2a2f"/>
<rect x="356.70" y="73.2" width="17.90" height="12.00" fill="#ec2a2f"/>
<rect x="374.00" y="73.2" width="17.90" height="12.00" fill="#ec2a2f"/>
<rect x="391.30" y="73.2" width="17.30" height="12.00" fill="#ec2a2f"/>
<line x1="235.60" y1="61.7" x2="235.60" y2="85.2" stroke="#101a10" stroke-width="0.9"/>
<line x1="252.90" y1="61.7" x2="252.90" y2="85.2" stroke="#101a10" stroke-width="0.9"/>
<line x1="270.20" y1="61.7" x2="270.20" y2="85.2" stroke="#101a10" stroke-width="0.9"/>
<line x1="287.50" y1="61.7" x2="287.50" y2="85.2" stroke="#101a10" stroke-width="0.9"/>
<line x1="304.80" y1="61.7" x2="304.80" y2="85.2" stroke="#101a10" stroke-width="0.9"/>
<line x1="322.10" y1="61.7" x2="322.10" y2="85.2" stroke="#101a10" stroke-width="0.9"/>
<line x1="339.40" y1="61.7" x2="339.40" y2="85.2" stroke="#101a10" stroke-width="0.9"/>
<line x1="356.70" y1="61.7" x2="356.70" y2="85.2" stroke="#101a10" stroke-width="0.9"/>
<line x1="374.00" y1="61.7" x2="374.00" y2="85.2" stroke="#101a10" stroke-width="0.9"/>
<line x1="391.30" y1="61.7" x2="391.30" y2="85.2" stroke="#101a10" stroke-width="0.9"/>
<line x1="408.60" y1="61.7" x2="408.60" y2="85.2" stroke="#101a10" stroke-width="0.9"/>
<line x1="235.15" y1="61.7" x2="409.05" y2="61.7" stroke="#101a10" stroke-width="0.9"/>
<line x1="235.15" y1="73.2" x2="409.05" y2="73.2" stroke="#101a10" stroke-width="0.9"/>
<line x1="235.15" y1="85.2" x2="409.05" y2="85.2" stroke="#101a10" stroke-width="0.9"/>
<rect x="235.20" y="91.6" width="17.94" height="17.30" fill="#14a552"/>
<rect x="252.54" y="91.6" width="17.94" height="17.30" fill="#7a201c"/>
<rect x="269.88" y="91.6" width="17.94" height="17.30" fill="#0c7c42"/>
<rect x="287.22" y="91.6" width="17.94" height="17.30" fill="#075c30"/>
<rect x="304.56" y="91.6" width="17.94" height="17.30" fill="#043a1c"/>
<rect x="321.90" y="91.6" width="17.94" height="17.30" fill="#8c2d28"/>
<rect x="339.24" y="91.6" width="17.94" height="17.30" fill="#3a2222"/>
<rect x="356.58" y="91.6" width="17.94" height="17.30" fill="#962e2a"/>
<rect x="373.92" y="91.6" width="17.94" height="17.30" fill="#04381a"/>
<rect x="391.26" y="91.6" width="17.34" height="17.30" fill="#0b8242"/>
<rect x="235.20" y="108.3" width="17.94" height="16.00" fill="#109048"/>
<rect x="252.54" y="108.3" width="17.94" height="16.00" fill="#0a6c3a"/>
<rect x="269.88" y="108.3" width="17.94" height="16.00" fill="#0a6a38"/>
<rect x="287.22" y="108.3" width="17.94" height="16.00" fill="#086232"/>
<rect x="304.56" y="108.3" width="17.94" height="16.00" fill="#6c201c"/>
<rect x="321.90" y="108.3" width="17.94" height="16.00" fill="#7c2622"/>
<rect x="339.24" y="108.3" width="17.94" height="16.00" fill="#0a7a40"/>
<rect x="356.58" y="108.3" width="17.94" height="16.00" fill="#c03032"/>
<rect x="373.92" y="108.3" width="17.94" height="16.00" fill="#3a2020"/>
<rect x="391.26" y="108.3" width="17.34" height="16.00" fill="#065a2c"/>
<rect x="235.60" y="186.7" width="17.90" height="13.20" fill="#19a94f"/>
<rect x="252.90" y="186.7" width="17.90" height="13.20" fill="#19a94f"/>
<rect x="270.20" y="186.7" width="17.90" height="13.20" fill="#a19a3c"/>
<rect x="287.50" y="186.7" width="17.90" height="13.20" fill="#14a9e6"/>
<rect x="304.80" y="186.7" width="17.90" height="13.20" fill="#35379e"/>
<rect x="322.10" y="186.7" width="17.90" height="13.20" fill="#35379e"/>
<rect x="339.40" y="186.7" width="17.90" height="13.20" fill="#ec2a2f"/>
<rect x="356.70" y="186.7" width="17.90" height="13.20" fill="#ec2a2f"/>
<rect x="374.00" y="186.7" width="17.90" height="13.20" fill="#ec2a2f"/>
<rect x="391.30" y="186.7" width="17.30" height="13.20" fill="#ec2a2f"/>
<rect x="235.60" y="199.3" width="17.90" height="12.40" fill="#19a94f"/>
<rect x="252.90" y="199.3" width="17.90" height="12.40" fill="#19a94f"/>
<rect x="270.20" y="199.3" width="17.90" height="12.40" fill="#a19a3c"/>
<rect x="287.50" y="199.3" width="17.90" height="12.40" fill="#ec2a2f"/>
<rect x="304.80" y="199.3" width="17.90" height="12.40" fill="#942a27"/>
<rect x="322.10" y="199.3" width="17.90" height="12.40" fill="#942a27"/>
<rect x="339.40" y="199.3" width="17.90" height="12.40" fill="#ec2a2f"/>
<rect x="356.70" y="199.3" width="17.90" height="12.40" fill="#ec2a2f"/>
<rect x="374.00" y="199.3" width="17.90" height="12.40" fill="#ec2a2f"/>
<rect x="391.30" y="199.3" width="17.30" height="12.40" fill="#ec2a2f"/>
<line x1="235.60" y1="186.7" x2="235.60" y2="211.7" stroke="#101a10" stroke-width="0.9"/>
<line x1="252.90" y1="186.7" x2="252.90" y2="211.7" stroke="#101a10" stroke-width="0.9"/>
<line x1="270.20" y1="186.7" x2="270.20" y2="211.7" stroke="#101a10" stroke-width="0.9"/>
<line x1="287.50" y1="186.7" x2="287.50" y2="211.7" stroke="#101a10" stroke-width="0.9"/>
<line x1="304.80" y1="186.7" x2="304.80" y2="211.7" stroke="#101a10" stroke-width="0.9"/>
<line x1="322.10" y1="186.7" x2="322.10" y2="211.7" stroke="#101a10" stroke-width="0.9"/>
<line x1="339.40" y1="186.7" x2="339.40" y2="211.7" stroke="#101a10" stroke-width="0.9"/>
<line x1="356.70" y1="186.7" x2="356.70" y2="211.7" stroke="#101a10" stroke-width="0.9"/>
<line x1="374.00" y1="186.7" x2="374.00" y2="211.7" stroke="#101a10" stroke-width="0.9"/>
<line x1="391.30" y1="186.7" x2="391.30" y2="211.7" stroke="#101a10" stroke-width="0.9"/>
<line x1="408.60" y1="186.7" x2="408.60" y2="211.7" stroke="#101a10" stroke-width="0.9"/>
<line x1="235.15" y1="186.7" x2="409.05" y2="186.7" stroke="#101a10" stroke-width="0.9"/>
<line x1="235.15" y1="199.3" x2="409.05" y2="199.3" stroke="#101a10" stroke-width="0.9"/>
<line x1="235.15" y1="211.7" x2="409.05" y2="211.7" stroke="#101a10" stroke-width="0.9"/>
<rect x="236.00" y="218.2" width="17.86" height="15.10" fill="#12a050"/>
<rect x="253.26" y="218.2" width="17.86" height="15.10" fill="#12a050"/>
<rect x="270.52" y="218.2" width="17.86" height="15.10" fill="#222428"/>
<rect x="287.78" y="218.2" width="17.86" height="15.10" fill="#086030"/>
<rect x="305.04" y="218.2" width="17.86" height="15.10" fill="#065a28"/>
<rect x="322.30" y="218.2" width="17.86" height="15.10" fill="#9c302c"/>
<rect x="339.56" y="218.2" width="17.86" height="15.10" fill="#2c2c2c"/>
<rect x="356.82" y="218.2" width="17.86" height="15.10" fill="#8c2c28"/>
<rect x="374.08" y="218.2" width="17.86" height="15.10" fill="#04501f"/>
<rect x="391.34" y="218.2" width="17.26" height="15.10" fill="#8a2c28"/>
<rect x="236.00" y="232.7" width="17.86" height="12.90" fill="#0a7a3c"/>
<rect x="253.26" y="232.7" width="17.86" height="12.90" fill="#0a7a3c"/>
<rect x="270.52" y="232.7" width="17.86" height="12.90" fill="#b82a30"/>
<rect x="287.78" y="232.7" width="17.86" height="12.90" fill="#24302a"/>
<rect x="305.04" y="232.7" width="17.86" height="12.90" fill="#0a7a3c"/>
<rect x="322.30" y="232.7" width="17.86" height="12.90" fill="#065a28"/>
<rect x="339.56" y="232.7" width="17.86" height="12.90" fill="#066a30"/>
<rect x="356.82" y="232.7" width="17.86" height="12.90" fill="#8c2c28"/>
<rect x="374.08" y="232.7" width="17.86" height="12.90" fill="#6a1418"/>
<rect x="391.34" y="232.7" width="17.26" height="12.90" fill="#065a2c"/>
<text transform="translate(247.80,58.3) rotate(-89.9)" font-family="Liberation Serif" font-size="7.2" fill="#222" textLength="16.88" lengthAdjust="spacingAndGlyphs">UPN1</text>
<text transform="translate(265.15,58.3) rotate(-89.9)" font-family="Liberation Serif" font-size="7.2" fill="#222" textLength="37.71" lengthAdjust="spacingAndGlyphs">GRANTA519</text>
<text transform="translate(282.50,58.3) rotate(-89.9)" font-family="Liberation Serif" font-size="7.2" fill="#222" textLength="19.87" lengthAdjust="spacingAndGlyphs">JEKO1</text>
<text transform="translate(299.85,58.3) rotate(-89.9)" font-family="Liberation Serif" font-size="7.2" fill="#222" textLength="16.88" lengthAdjust="spacingAndGlyphs">HBL2</text>
<text transform="translate(317.20,58.3) rotate(-89.9)" font-family="Liberation Serif" font-size="7.2" fill="#222" textLength="16.88" lengthAdjust="spacingAndGlyphs">JVM2</text>
<text transform="translate(334.55,58.3) rotate(-89.9)" font-family="Liberation Serif" font-size="7.2" fill="#222" textLength="26.88" lengthAdjust="spacingAndGlyphs">MAVER1</text>
<text transform="translate(351.90,58.3) rotate(-89.9)" font-family="Liberation Serif" font-size="7.2" fill="#222" textLength="18.00" lengthAdjust="spacingAndGlyphs">MINO</text>
<text transform="translate(369.25,58.3) rotate(-89.9)" font-family="Liberation Serif" font-size="7.2" fill="#222" textLength="21.38" lengthAdjust="spacingAndGlyphs">NCEB1</text>
<text transform="translate(386.60,58.3) rotate(-89.9)" font-family="Liberation Serif" font-size="7.2" fill="#222" textLength="16.50" lengthAdjust="spacingAndGlyphs">REC1</text>
<text transform="translate(403.95,58.3) rotate(-89.9)" font-family="Liberation Serif" font-size="7.2" fill="#222" textLength="14.25" lengthAdjust="spacingAndGlyphs">Z138</text>
<text transform="translate(248.20,183.1) rotate(-89.9)" font-family="Liberation Serif" font-size="7.2" fill="#222" textLength="19.87" lengthAdjust="spacingAndGlyphs">JEKO1</text>
<text transform="translate(265.55,183.1) rotate(-89.9)" font-family="Liberation Serif" font-size="7.2" fill="#222" textLength="18.00" lengthAdjust="spacingAndGlyphs">MINO</text>
<text transform="translate(282.90,183.1) rotate(-89.9)" font-family="Liberation Serif" font-size="7.2" fill="#222" textLength="16.50" lengthAdjust="spacingAndGlyphs">REC1</text>
<text transform="translate(300.25,183.1) rotate(-89.9)" font-family="Liberation Serif" font-size="7.2" fill="#222" textLength="14.25" lengthAdjust="spacingAndGlyphs">Z138</text>
<text transform="translate(317.60,183.1) rotate(-89.9)" font-family="Liberation Serif" font-size="7.2" fill="#222" textLength="16.88" lengthAdjust="spacingAndGlyphs">UPN1</text>
<text transform="translate(334.95,183.1) rotate(-89.9)" font-family="Liberation Serif" font-size="7.2" fill="#222" textLength="16.88" lengthAdjust="spacingAndGlyphs">HBL2</text>
<text transform="translate(352.30,183.1) rotate(-89.9)" font-family="Liberation Serif" font-size="7.2" fill="#222" textLength="37.71" lengthAdjust="spacingAndGlyphs">GRANTA519</text>
<text transform="translate(369.65,183.1) rotate(-89.9)" font-family="Liberation Serif" font-size="7.2" fill="#222" textLength="16.88" lengthAdjust="spacingAndGlyphs">JVM2</text>
<text transform="translate(387.00,183.1) rotate(-89.9)" font-family="Liberation Serif" font-size="7.2" fill="#222" textLength="26.88" lengthAdjust="spacingAndGlyphs">MAVER1</text>
<text transform="translate(404.35,183.1) rotate(-89.9)" font-family="Liberation Serif" font-size="7.2" fill="#222" textLength="21.38" lengthAdjust="spacingAndGlyphs">NCEB1</text>
<text x="413.2" y="71.6" font-family="Liberation Serif" font-size="9.1" font-weight="normal" font-style="normal" text-anchor="start" fill="#1a1a1a" textLength="35.4" lengthAdjust="spacingAndGlyphs" >SNP-array</text>
<text x="414.7" y="83.6" font-family="Liberation Serif" font-size="9.1" font-weight="normal" font-style="normal" text-anchor="start" fill="#1a1a1a" textLength="20.4" lengthAdjust="spacingAndGlyphs" >qPCR</text>
<text x="412.4" y="104.7" font-family="Liberation Serif" font-size="9.1" font-weight="normal" font-style="normal" text-anchor="start" fill="#1a1a1a" textLength="43.2" lengthAdjust="spacingAndGlyphs" >HG-133+2.0</text>
<text x="412.6" y="118.6" font-family="Liberation Serif" font-size="9.1" font-weight="normal" font-style="normal" text-anchor="start" fill="#1a1a1a" textLength="33.2" lengthAdjust="spacingAndGlyphs" >qRT-PCR</text>
<text x="413.2" y="197.9" font-family="Liberation Serif" font-size="9.1" font-weight="normal" font-style="normal" text-anchor="start" fill="#1a1a1a" textLength="35.4" lengthAdjust="spacingAndGlyphs" >SNP-array</text>
<text x="414.7" y="209.0" font-family="Liberation Serif" font-size="9.1" font-weight="normal" font-style="normal" text-anchor="start" fill="#1a1a1a" textLength="20.4" lengthAdjust="spacingAndGlyphs" >qPCR</text>
<text x="412.4" y="229.0" font-family="Liberation Serif" font-size="9.1" font-weight="normal" font-style="normal" text-anchor="start" fill="#1a1a1a" textLength="43.2" lengthAdjust="spacingAndGlyphs" >HG-133+2.0</text>
<text x="414.0" y="242.7" font-family="Liberation Serif" font-size="9.1" font-weight="normal" font-style="normal" text-anchor="start" fill="#1a1a1a" textLength="32.6" lengthAdjust="spacingAndGlyphs" >qRT-PCR</text>
<path d="M454.40000000000003 62.6 Q458.8 62.6 458.8 65.8 V82.1 Q458.8 85.3 454.40000000000003 85.3" fill="none" stroke="#222" stroke-width="1.2"/>
<path d="M455.40000000000003 95.3 Q459.8 95.3 459.8 98.5 V115.0 Q459.8 118.2 455.40000000000003 118.2" fill="none" stroke="#222" stroke-width="1.2"/>
<path d="M455.40000000000003 189.3 Q459.8 189.3 459.8 192.5 V209.9 Q459.8 213.1 455.40000000000003 213.1" fill="none" stroke="#222" stroke-width="1.2"/>
<path d="M455.40000000000003 218.7 Q459.8 218.7 459.8 221.89999999999998 V239.3 Q459.8 242.5 455.40000000000003 242.5" fill="none" stroke="#222" stroke-width="1.2"/>
<text x="462.0" y="77.0" font-family="Liberation Serif" font-size="11.1" font-weight="normal" font-style="normal" text-anchor="start" fill="#1a1a1a" textLength="57" lengthAdjust="spacingAndGlyphs" >Copy number</text>
<text x="462.4" y="110.4" font-family="Liberation Serif" font-size="11.0" font-weight="normal" font-style="normal" text-anchor="start" fill="#1a1a1a" textLength="46" lengthAdjust="spacingAndGlyphs" >Expression</text>
<text x="462.8" y="203.9" font-family="Liberation Serif" font-size="11.1" font-weight="normal" font-style="normal" text-anchor="start" fill="#1a1a1a" textLength="56.8" lengthAdjust="spacingAndGlyphs" >Copy number</text>
<text x="462.6" y="236.0" font-family="Liberation Serif" font-size="11.0" font-weight="normal" font-style="normal" text-anchor="start" fill="#1a1a1a" textLength="46.2" lengthAdjust="spacingAndGlyphs" >Expression</text>
<text x="474.8" y="53.8" font-family="Liberation Serif" font-size="11" font-weight="bold" font-style="italic" text-anchor="start" fill="#111" textLength="26.4" lengthAdjust="spacingAndGlyphs" >FAF1</text>
<text x="476.7" y="181.7" font-family="Liberation Serif" font-size="11" font-weight="bold" font-style="italic" text-anchor="start" fill="#111" textLength="31" lengthAdjust="spacingAndGlyphs" >SP100</text>
<rect x="306.3" y="260.2" width="13.0" height="10.300000000000011" fill="#19a94f" stroke="#2a3a2a" stroke-width="0.7"/>
<rect x="306.3" y="270.5" width="13.0" height="10.5" fill="#a19a3c" stroke="#2a3a2a" stroke-width="0.7"/>
<rect x="306.3" y="281.0" width="13.0" height="9.800000000000011" fill="#14a9e6" stroke="#2a3a2a" stroke-width="0.7"/>
<rect x="306.3" y="290.8" width="13.0" height="10.5" fill="#35379e" stroke="#2a3a2a" stroke-width="0.7"/>
<rect x="306.3" y="301.3" width="13.0" height="10.0" fill="#ec2a2f" stroke="#2a3a2a" stroke-width="0.7"/>
<rect x="306.3" y="311.3" width="13.0" height="10.699999999999989" fill="#942a27" stroke="#2a3a2a" stroke-width="0.7"/>
<text x="321.0" y="267.3" font-family="Liberation Serif" font-size="7.4" font-weight="normal" font-style="normal" text-anchor="start" fill="#1a1a1a" textLength="9.75" lengthAdjust="spacingAndGlyphs" >HD</text>
<text x="321.0" y="277.5" font-family="Liberation Serif" font-size="7.4" font-weight="normal" font-style="normal" text-anchor="start" fill="#1a1a1a" textLength="16.5" lengthAdjust="spacingAndGlyphs" >LOSS</text>
<text x="321.0" y="287.8" font-family="Liberation Serif" font-size="7.4" font-weight="normal" font-style="normal" text-anchor="start" fill="#1a1a1a" textLength="13.5" lengthAdjust="spacingAndGlyphs" >UPD</text>
<text x="321.0" y="298.0" font-family="Liberation Serif" font-size="7.4" font-weight="normal" font-style="normal" text-anchor="start" fill="#1a1a1a" textLength="12.75" lengthAdjust="spacingAndGlyphs" >UPT</text>
<text x="321.0" y="308.3" font-family="Liberation Serif" font-size="7.4" font-weight="normal" font-style="normal" text-anchor="start" fill="#1a1a1a" textLength="10.49" lengthAdjust="spacingAndGlyphs" >WT</text>
<text x="321.0" y="319.0" font-family="Liberation Serif" font-size="7.4" font-weight="normal" font-style="normal" text-anchor="start" fill="#1a1a1a" textLength="16.87" lengthAdjust="spacingAndGlyphs" >GAIN</text>
<text x="243.2" y="291.9" font-family="Liberation Serif" font-size="9.3" font-weight="normal" font-style="normal" text-anchor="start" fill="#1a1a1a" textLength="41" lengthAdjust="spacingAndGlyphs" stroke="#1a1a1a" stroke-width="0.2">COPY NUMBER</text>
<text x="243.2" y="301.9" font-family="Liberation Serif" font-size="9.3" font-weight="normal" font-style="normal" text-anchor="start" fill="#1a1a1a" textLength="41" lengthAdjust="spacingAndGlyphs" stroke="#1a1a1a" stroke-width="0.2">COLOR  CODES</text>
</svg>
</body></html>
